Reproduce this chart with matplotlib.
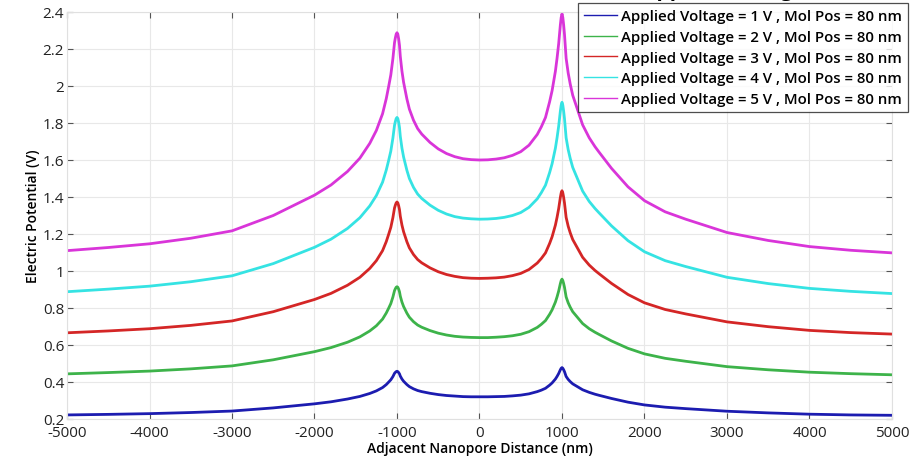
import matplotlib
matplotlib.use('Agg')
import matplotlib.pyplot as plt
from matplotlib.lines import Line2D

# distance along the membrane (nm), denser near the two pores at +-1000 nm
dist = [-5000, -4500, -4000, -3500, -3000, -2500, -2250, -2000, -1800, -1600,
        -1450, -1330, -1250, -1175, -1130, -1100, -1075, -1050, -1030, -1020, -1010, -1000,
        -990, -980, -970, -960, -940, -920, -880, -850, -800, -750,
        -700, -600, -500, -400, -300, -200, -100,
        0,
        100, 200, 300, 400, 500, 600, 700, 750, 800, 850,
        880, 920, 940, 960, 970, 980, 990,
        1000,
        1010, 1020, 1030, 1050, 1075, 1100, 1130, 1175, 1250, 1330,
        1400, 1450, 1600, 1800, 2000, 2250, 2500, 3000, 3500, 4000, 4500, 5000]

v1 = [0.222, 0.225, 0.229, 0.235, 0.243, 0.260, 0.271, 0.282, 0.293, 0.308,
      0.322, 0.338, 0.352, 0.370, 0.386, 0.400, 0.412, 0.429, 0.447, 0.452, 0.456, 0.458,
      0.456, 0.451, 0.444, 0.432, 0.416, 0.404, 0.386, 0.375, 0.363, 0.354,
      0.348, 0.339, 0.332, 0.327, 0.324, 0.321, 0.320,
      0.320,
      0.320, 0.321, 0.322, 0.325, 0.329, 0.336, 0.348, 0.356, 0.366, 0.383,
      0.395, 0.416, 0.430, 0.446, 0.456, 0.466, 0.474,
      0.478,
      0.474, 0.466, 0.456, 0.430, 0.414, 0.402, 0.390, 0.378, 0.358, 0.344,
      0.334, 0.328, 0.311, 0.291, 0.276, 0.264, 0.256, 0.242, 0.233, 0.226, 0.222, 0.220]

v2 = [0.444, 0.451, 0.459, 0.471, 0.487, 0.520, 0.542, 0.564, 0.586, 0.615,
      0.644, 0.676, 0.704, 0.740, 0.773, 0.800, 0.824, 0.859, 0.894, 0.904, 0.912, 0.915,
      0.912, 0.902, 0.888, 0.864, 0.832, 0.808, 0.772, 0.750, 0.726, 0.708,
      0.696, 0.678, 0.664, 0.654, 0.647, 0.643, 0.641,
      0.640,
      0.640, 0.642, 0.645, 0.650, 0.658, 0.672, 0.695, 0.712, 0.732, 0.766,
      0.790, 0.832, 0.860, 0.892, 0.912, 0.932, 0.948,
      0.956,
      0.948, 0.932, 0.912, 0.860, 0.828, 0.804, 0.780, 0.756, 0.716, 0.688,
      0.669, 0.657, 0.622, 0.582, 0.552, 0.528, 0.512, 0.483, 0.466, 0.453, 0.445, 0.439]

v3 = [0.666, 0.676, 0.688, 0.706, 0.730, 0.780, 0.813, 0.846, 0.879, 0.923,
      0.966, 1.014, 1.056, 1.110, 1.159, 1.200, 1.236, 1.288, 1.341, 1.356, 1.368, 1.373,
      1.368, 1.353, 1.332, 1.296, 1.248, 1.212, 1.158, 1.125, 1.089, 1.062,
      1.044, 1.017, 0.996, 0.981, 0.971, 0.964, 0.961,
      0.960,
      0.961, 0.963, 0.967, 0.975, 0.987, 1.008, 1.043, 1.068, 1.098, 1.149,
      1.185, 1.248, 1.290, 1.338, 1.368, 1.398, 1.422,
      1.434,
      1.422, 1.398, 1.368, 1.290, 1.242, 1.206, 1.170, 1.134, 1.074, 1.032,
      1.003, 0.985, 0.933, 0.873, 0.828, 0.792, 0.768, 0.725, 0.699, 0.679, 0.667, 0.659]

v4 = [0.888, 0.902, 0.918, 0.942, 0.974, 1.040, 1.084, 1.128, 1.172, 1.230,
      1.288, 1.352, 1.408, 1.480, 1.546, 1.600, 1.648, 1.718, 1.788, 1.808, 1.824, 1.830,
      1.824, 1.804, 1.776, 1.728, 1.664, 1.616, 1.544, 1.500, 1.452, 1.416,
      1.392, 1.356, 1.328, 1.308, 1.294, 1.286, 1.282,
      1.280,
      1.281, 1.284, 1.290, 1.300, 1.316, 1.344, 1.390, 1.424, 1.464, 1.532,
      1.580, 1.664, 1.720, 1.784, 1.824, 1.864, 1.896,
      1.912,
      1.896, 1.864, 1.824, 1.720, 1.656, 1.608, 1.560, 1.512, 1.432, 1.376,
      1.338, 1.314, 1.244, 1.164, 1.104, 1.056, 1.024, 0.966, 0.932, 0.906, 0.890, 0.878]

v5 = [1.110, 1.127, 1.147, 1.177, 1.217, 1.300, 1.355, 1.410, 1.465, 1.538,
      1.610, 1.690, 1.760, 1.850, 1.932, 2.000, 2.060, 2.147, 2.235, 2.260, 2.280, 2.288,
      2.280, 2.255, 2.220, 2.160, 2.080, 2.020, 1.930, 1.875, 1.815, 1.770,
      1.740, 1.695, 1.660, 1.635, 1.618, 1.607, 1.602,
      1.600,
      1.601, 1.605, 1.612, 1.625, 1.645, 1.680, 1.738, 1.780, 1.830, 1.915,
      1.975, 2.080, 2.150, 2.230, 2.280, 2.330, 2.370,
      2.390,
      2.370, 2.330, 2.280, 2.150, 2.070, 2.010, 1.950, 1.890, 1.790, 1.720,
      1.672, 1.642, 1.555, 1.455, 1.380, 1.320, 1.280, 1.208, 1.165, 1.132, 1.112, 1.098]

series = [v1, v2, v3, v4, v5]
colors = ['#1c1cb0', '#3db34a', '#d42626', '#35e3e3', '#d935d9']
labels = ['Applied Voltage = %d V , Mol Pos = 80 nm' % k for k in range(1, 6)]

xticks = list(range(-5000, 5001, 1000))
yticks = [0.2, 0.4, 0.6, 0.8, 1.0, 1.2, 1.4, 1.6, 1.8, 2.0, 2.2, 2.4]
ytick_labels = ['0.2', '0.4', '0.6', '0.8', '1', '1.2', '1.4', '1.6', '1.8', '2', '2.2', '2.4']

fig = plt.figure(figsize=(9.12, 4.6), dpi=100)
ax = fig.add_axes([67 / 912, 40 / 460, 825 / 912, 407 / 460])

for ys, c in zip(series, colors):
    ax.plot(dist, ys, color=c, lw=2.0, solid_joinstyle='round', solid_capstyle='round')

ax.set_xlim(-5000, 5000)
ax.set_ylim(0.2, 2.4)
ax.set_xticks(xticks)
ax.set_xticklabels([str(t) for t in xticks], fontfamily='Open Sans', fontsize=11)
ax.set_yticks(yticks)
ax.set_yticklabels(ytick_labels, fontfamily='Open Sans', fontsize=11)
ax.tick_params(direction='in', length=4, width=0.8, color='#555555', pad=2,
               top=True, right=True, labelcolor='#222222')
ax.tick_params(axis='x', pad=4)
ax.grid(True, color='#e8e8e8', lw=0.8)
for s in ax.spines.values():
    s.set_color('#e0e0e0')
    s.set_linewidth(0.8)

ax.set_xlabel('Adjacent Nanopore Distance (nm)', fontfamily='Open Sans',
              fontweight='semibold', fontsize=10, labelpad=1)
ax.set_ylabel('Electric Potential (V)', fontfamily='Open Sans',
              fontweight='semibold', fontsize=10, labelpad=2)

# title sits above the visible area, only the descenders show
fig.text(805 / 912, 1 + 4 / 460, 'Electric Potential Profile for Different Applied Voltage',
         ha='right', va='baseline', fontfamily='Open Sans', fontweight='bold', fontsize=15)

handles = [Line2D([], [], color=c, lw=1.0) for c in colors]
leg = fig.legend(handles, labels, loc='upper right', bbox_to_anchor=(908 / 912, 1 - 4 / 460),
                 prop={'family': 'Open Sans', 'weight': 'semibold', 'size': 10.8},
                 frameon=True, fancybox=False, handlelength=2.2, handletextpad=0.3,
                 labelspacing=0.45, borderpad=0.4, borderaxespad=0)
leg.get_frame().set_edgecolor('#222222')
leg.get_frame().set_linewidth(0.9)

fig.savefig('out.png', dpi=100)
